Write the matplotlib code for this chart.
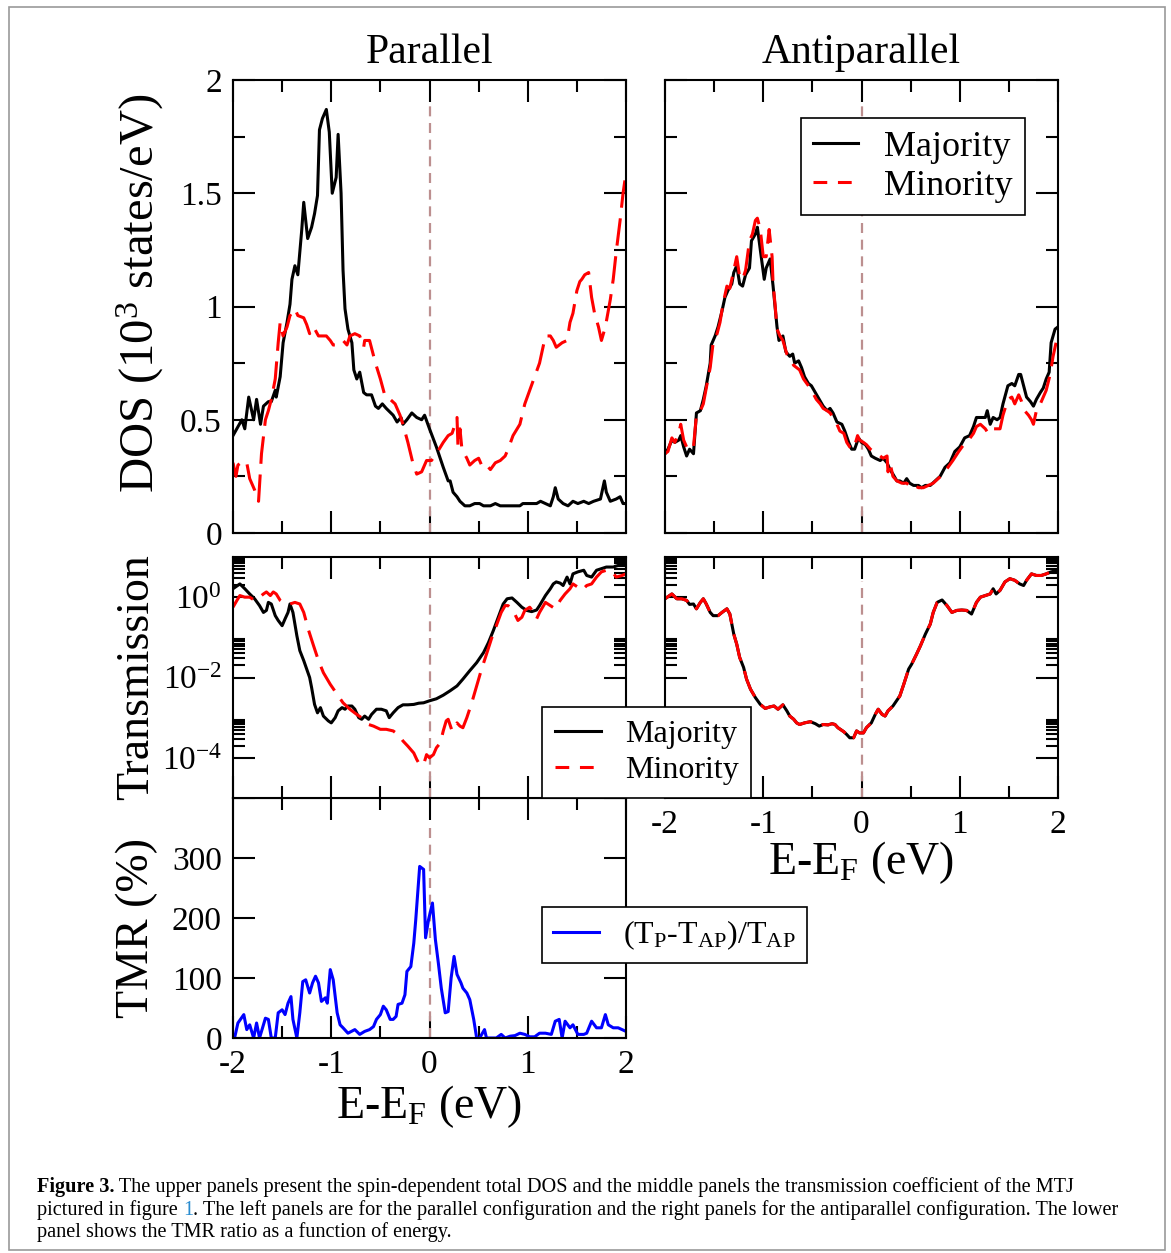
import numpy as np
import matplotlib
matplotlib.use('Agg')
import matplotlib.pyplot as plt
from matplotlib.lines import Line2D
from matplotlib.patches import Rectangle
from matplotlib.ticker import FixedLocator, MultipleLocator, NullFormatter

plt.rcParams['font.family'] = ['Liberation Serif', 'DejaVu Serif']
plt.rcParams['mathtext.fontset'] = 'custom'
plt.rcParams['mathtext.rm'] = 'Liberation Serif'
plt.rcParams['mathtext.it'] = 'Liberation Serif:italic'
plt.rcParams['mathtext.bf'] = 'Liberation Serif:bold'
plt.rcParams['axes.unicode_minus'] = False

# --- DOS, configuration parallele (10^3 etats/eV) ---
e_dos_p_maj = [-2.00, -1.91, -1.88, -1.84, -1.79, -1.76, -1.72, -1.69, -1.64, -1.61, -1.57, -1.56,
               -1.52, -1.49, -1.45, -1.42, -1.40, -1.37, -1.34, -1.30, -1.28, -1.24, -1.20, -1.17,
               -1.14, -1.12, -1.09, -1.05, -1.02, -0.99, -0.95, -0.93, -0.90, -0.88, -0.86, -0.83,
               -0.79, -0.77, -0.74, -0.71, -0.67, -0.64, -0.59, -0.55, -0.52, -0.48, -0.44, -0.37,
               -0.33, -0.29, -0.27, -0.23, -0.18, -0.13, -0.08, -0.05, 0.00, 0.07, 0.14, 0.19,
               0.21, 0.24, 0.28, 0.31, 0.36, 0.41, 0.46, 0.51, 0.55, 0.62, 0.67, 0.72, 0.79, 0.85,
               0.92, 0.95, 1.02, 1.09, 1.13, 1.18, 1.23, 1.26, 1.28, 1.31, 1.36, 1.41, 1.46, 1.51,
               1.57, 1.62, 1.67, 1.74, 1.76, 1.78, 1.80, 1.84, 1.90, 1.94, 1.97, 2.00]
dos_p_maj = [0.43, 0.50, 0.46, 0.60, 0.50, 0.59, 0.48, 0.56, 0.58, 0.58, 0.63, 0.60,
             0.69, 0.84, 0.93, 1.01, 1.12, 1.18, 1.14, 1.34, 1.46, 1.30, 1.35, 1.41,
             1.49, 1.78, 1.83, 1.87, 1.77, 1.50, 1.57, 1.76, 1.50, 1.16, 0.99, 0.90,
             0.84, 0.72, 0.68, 0.71, 0.62, 0.61, 0.61, 0.56, 0.55, 0.57, 0.55, 0.52,
             0.49, 0.51, 0.48, 0.50, 0.53, 0.51, 0.50, 0.52, 0.46, 0.38, 0.29, 0.23,
             0.23, 0.18, 0.16, 0.14, 0.12, 0.12, 0.13, 0.13, 0.12, 0.12, 0.13, 0.12, 0.12, 0.12,
             0.12, 0.13, 0.13, 0.13, 0.14, 0.13, 0.12, 0.16, 0.20, 0.15, 0.13, 0.12, 0.14, 0.13,
             0.14, 0.13, 0.14, 0.15, 0.19, 0.23, 0.18, 0.14, 0.15, 0.16, 0.13, 0.13]

e_dos_p_min = [-2.00, -1.97, -1.95, -1.89, -1.86, -1.83, -1.78, -1.74, -1.71, -1.67, -1.64, -1.61,
               -1.57, -1.54, -1.52, -1.49, -1.45, -1.42, -1.37, -1.34, -1.28, -1.25, -1.22, -1.18,
               -1.13, -1.08, -1.05, -1.01, -0.98, -0.93, -0.88, -0.84, -0.81, -0.76, -0.71, -0.67,
               -0.66, -0.61, -0.55, -0.50, -0.45, -0.40, -0.35, -0.30, -0.27, -0.22, -0.17, -0.13,
               -0.08, -0.03, 0.02, 0.07, 0.14, 0.19, 0.23, 0.26, 0.28, 0.29, 0.31, 0.33, 0.38,
               0.41, 0.46, 0.50, 0.53, 0.56, 0.62, 0.67, 0.72, 0.77, 0.80, 0.85, 0.92, 0.97, 1.02,
               1.07, 1.12, 1.18, 1.23, 1.26, 1.29, 1.35, 1.40, 1.43, 1.46, 1.50, 1.53, 1.55, 1.58,
               1.62, 1.65, 1.68, 1.72, 1.75, 1.79, 1.84, 1.87, 1.90, 1.94, 1.97, 2.00]
dos_p_min = [0.31, 0.25, 0.30, 0.32, 0.31, 0.24, 0.19, 0.14, 0.35, 0.50, 0.54, 0.59,
             0.68, 0.84, 0.93, 0.87, 0.91, 0.96, 0.99, 0.96, 0.95, 0.92, 0.88, 0.91,
             0.87, 0.87, 0.87, 0.85, 0.83, 0.83, 0.85, 0.83, 0.87, 0.88, 0.87, 0.82,
             0.85, 0.85, 0.75, 0.68, 0.60, 0.59, 0.57, 0.52, 0.48, 0.40, 0.31, 0.26,
             0.27, 0.32, 0.32, 0.35, 0.40, 0.43, 0.44, 0.48, 0.51, 0.38, 0.46, 0.37, 0.33,
             0.30, 0.32, 0.33, 0.30, 0.31, 0.28, 0.31, 0.32, 0.34, 0.37, 0.43, 0.48, 0.57, 0.63,
             0.69, 0.75, 0.87, 0.87, 0.85, 0.82, 0.84, 0.85, 0.93, 0.97, 1.07, 1.11, 1.12, 1.14,
             1.15, 1.04, 0.97, 0.91, 0.85, 0.91, 1.03, 1.12, 1.24, 1.38, 1.50, 1.59]

# --- DOS, configuration antiparallele ---
e_dos_ap_maj = [-2.00, -1.97, -1.93, -1.90, -1.86, -1.84, -1.81, -1.78, -1.75, -1.71, -1.68, -1.64,
                -1.61, -1.58, -1.54, -1.53, -1.49, -1.46, -1.42, -1.39, -1.36, -1.32, -1.30, -1.27,
                -1.24, -1.21, -1.18, -1.14, -1.12, -1.08, -1.06, -1.03, -0.99, -0.97, -0.93, -0.90,
                -0.88, -0.86, -0.84, -0.80, -0.77, -0.73, -0.70, -0.68, -0.64, -0.61, -0.58, -0.54,
                -0.51, -0.47, -0.43, -0.39, -0.35, -0.32, -0.29, -0.25, -0.20, -0.17, -0.13, -0.10,
                -0.07, -0.03, 0.00, 0.04, 0.07, 0.10, 0.14, 0.19, 0.22, 0.26, 0.29, 0.32, 0.36,
                0.39, 0.43, 0.46, 0.49, 0.53, 0.58, 0.61, 0.65, 0.70, 0.75, 0.80, 0.85, 0.90, 0.95,
                1.00, 1.05, 1.10, 1.14, 1.17, 1.22, 1.26, 1.28, 1.31, 1.34, 1.38, 1.41, 1.44, 1.49,
                1.53, 1.56, 1.60, 1.62, 1.65, 1.68, 1.72, 1.75, 1.78, 1.82, 1.85, 1.88, 1.91, 1.93,
                1.97, 2.00]
dos_ap_maj = [0.35, 0.37, 0.41, 0.40, 0.41, 0.43, 0.38, 0.34, 0.37, 0.35, 0.53, 0.54,
              0.59, 0.65, 0.75, 0.83, 0.87, 0.91, 0.98, 1.04, 1.07, 1.10, 1.15, 1.18,
              1.10, 1.09, 1.14, 1.17, 1.29, 1.32, 1.35, 1.25, 1.12, 1.17, 1.21, 1.09,
              1.00, 0.91, 0.85, 0.87, 0.80, 0.78, 0.79, 0.75, 0.76, 0.73, 0.69, 0.66,
              0.65, 0.62, 0.59, 0.56, 0.54, 0.55, 0.53, 0.49, 0.48, 0.45, 0.40, 0.37,
              0.37, 0.42, 0.40, 0.39, 0.37, 0.34, 0.33, 0.32, 0.33, 0.31, 0.28, 0.26, 0.23,
              0.23, 0.22, 0.24, 0.22, 0.21, 0.21, 0.20, 0.21, 0.21, 0.23, 0.25, 0.29, 0.31, 0.36,
              0.38, 0.42, 0.43, 0.47, 0.51, 0.51, 0.51, 0.54, 0.48, 0.51, 0.50, 0.51, 0.57, 0.65,
              0.66, 0.65, 0.70, 0.70, 0.65, 0.60, 0.58, 0.56, 0.59, 0.62, 0.64, 0.68, 0.71, 0.84,
              0.90, 0.91]

e_dos_ap_min = [-2.00, -1.97, -1.93, -1.90, -1.86, -1.84, -1.81, -1.77, -1.73, -1.71, -1.68, -1.64,
                -1.61, -1.58, -1.54, -1.51, -1.47, -1.44, -1.41, -1.37, -1.34, -1.30, -1.27, -1.24,
                -1.21, -1.18, -1.14, -1.11, -1.08, -1.06, -1.03, -1.00, -0.97, -0.94, -0.91, -0.90,
                -0.88, -0.86, -0.83, -0.80, -0.76, -0.73, -0.69, -0.66, -0.63, -0.59, -0.54, -0.51,
                -0.46, -0.42, -0.39, -0.35, -0.32, -0.29, -0.25, -0.22, -0.18, -0.15, -0.12, -0.08,
                -0.04, -0.02, 0.02, 0.05, 0.09, 0.12, 0.15, 0.19, 0.22, 0.26, 0.27, 0.29, 0.32,
                0.36, 0.41, 0.46, 0.51, 0.54, 0.58, 0.63, 0.68, 0.73, 0.78, 0.83, 0.88, 0.93, 0.99,
                1.04, 1.09, 1.14, 1.17, 1.21, 1.26, 1.29, 1.32, 1.38, 1.41, 1.44, 1.49, 1.53, 1.56,
                1.60, 1.63, 1.66, 1.70, 1.73, 1.75, 1.78, 1.82, 1.85, 1.88, 1.92, 1.95, 1.98]
dos_ap_min = [0.35, 0.36, 0.42, 0.40, 0.44, 0.48, 0.41, 0.37, 0.37, 0.38, 0.52, 0.54,
              0.57, 0.64, 0.73, 0.84, 0.88, 0.93, 1.01, 1.09, 1.08, 1.16, 1.22, 1.13,
              1.12, 1.16, 1.29, 1.32, 1.38, 1.39, 1.34, 1.22, 1.22, 1.34, 1.22, 1.10,
              1.01, 0.90, 0.87, 0.85, 0.79, 0.77, 0.74, 0.73, 0.72, 0.68, 0.65, 0.63,
              0.59, 0.57, 0.55, 0.54, 0.53, 0.51, 0.48, 0.45, 0.44, 0.40, 0.38, 0.37,
              0.43, 0.41, 0.40, 0.39, 0.37, 0.36, 0.35, 0.34, 0.33, 0.34, 0.27, 0.31, 0.25,
              0.23, 0.22, 0.22, 0.20, 0.21, 0.20, 0.20, 0.21, 0.22, 0.24, 0.26, 0.29, 0.32, 0.36,
              0.39, 0.41, 0.44, 0.47, 0.48, 0.46, 0.44, 0.46, 0.46, 0.46, 0.52, 0.59, 0.60, 0.57,
              0.61, 0.58, 0.54, 0.52, 0.50, 0.48, 0.54, 0.57, 0.60, 0.63, 0.70, 0.78, 0.84]

# --- Transmission, log10(T) ---
e_tr_p_maj = [-2.00, -1.93, -1.88, -1.83, -1.78, -1.73, -1.69, -1.66, -1.64, -1.61, -1.57, -1.54,
              -1.50, -1.47, -1.44, -1.42, -1.39, -1.35, -1.32, -1.28, -1.25, -1.22, -1.20, -1.17,
              -1.14, -1.11, -1.08, -1.03, -1.00, -0.96, -0.93, -0.89, -0.86, -0.83, -0.79, -0.76,
              -0.72, -0.69, -0.66, -0.62, -0.59, -0.54, -0.49, -0.44, -0.41, -0.37, -0.32, -0.27,
              -0.22, -0.16, -0.11, -0.06, 0.00, 0.07, 0.14, 0.21, 0.28, 0.34, 0.41, 0.48, 0.55,
              0.60, 0.65, 0.70, 0.75, 0.79, 0.84, 0.89, 0.94, 0.99, 1.04, 1.09, 1.12, 1.18, 1.23,
              1.26, 1.29, 1.33, 1.36, 1.40, 1.43, 1.46, 1.51, 1.57, 1.60, 1.65, 1.70, 1.75, 1.80,
              1.87, 1.92, 2.00]
log_tr_p_maj = [0.21, 0.33, 0.21, 0.08, -0.04, -0.21, -0.38, -0.33, -0.13, -0.17, -0.46, -0.58,
                -0.71, -0.54, -0.38, -0.17, -0.38, -0.96, -1.33, -1.58, -1.79, -2.00, -2.25, -2.67,
                -2.88, -2.75, -2.96, -3.08, -3.13, -3.00, -2.83, -2.75, -2.79, -2.71, -2.71, -2.79,
                -3.00, -3.04, -2.96, -3.04, -2.92, -2.79, -2.79, -2.83, -3.00, -2.88, -2.75, -2.68,
                -2.68, -2.67, -2.64, -2.63, -2.58, -2.53, -2.44, -2.33, -2.21, -2.04, -1.83, -1.63, -1.38,
                -1.13, -0.83, -0.50, -0.17, -0.04, -0.02, -0.13, -0.25, -0.33, -0.36, -0.32, -0.21, 0.04, 0.21,
                0.33, 0.38, 0.35, 0.29, 0.50, 0.33, 0.58, 0.63, 0.67, 0.54, 0.50, 0.67, 0.71, 0.75,
                0.75, 0.79, 0.83]

e_tr_p_min = [-2.00, -1.96, -1.93, -1.88, -1.83, -1.78, -1.73, -1.69, -1.66, -1.62, -1.59, -1.56,
              -1.52, -1.47, -1.42, -1.37, -1.32, -1.28, -1.23, -1.18, -1.13, -1.08, -1.01, -0.94,
              -0.88, -0.81, -0.74, -0.67, -0.62, -0.57, -0.50, -0.44, -0.37, -0.32, -0.27, -0.22,
              -0.16, -0.13, -0.10, -0.06, -0.03, 0.00, 0.04, 0.07, 0.11, 0.14, 0.17, 0.19, 0.23,
              0.28, 0.31, 0.34, 0.38, 0.43, 0.48, 0.53, 0.58, 0.63, 0.68, 0.73, 0.77, 0.80, 0.85,
              0.90, 0.94, 0.97, 1.02, 1.06, 1.09, 1.12, 1.18, 1.23, 1.28, 1.33, 1.38, 1.43, 1.46,
              1.51, 1.55, 1.60, 1.65, 1.70, 1.75, 1.80, 1.85, 1.90, 1.96, 2.00]
log_tr_p_min = [-0.25, -0.08, 0.04, 0.00, 0.00, -0.08, 0.00, 0.08, 0.13, 0.04, 0.13, 0.08,
                -0.08, -0.17, -0.17, -0.13, -0.17, -0.38, -0.83, -1.21, -1.58, -1.88, -2.17, -2.42,
                -2.63, -2.79, -2.92, -3.04, -3.17, -3.21, -3.29, -3.29, -3.33, -3.42, -3.58, -3.71,
                -3.88, -4.04, -4.17, -4.17, -3.92, -4.00, -3.92, -3.75, -3.63, -3.33, -3.08, -3.04, -3.33,
                -3.13, -3.21, -3.25, -3.00, -2.63, -2.21, -1.79, -1.42, -1.04, -0.71, -0.38, -0.21, -0.21, -0.33,
                -0.58, -0.50, -0.33, -0.25, -0.38, -0.54, -0.38, -0.13, -0.21, -0.29, -0.08, 0.08, 0.21, 0.33,
                0.25, 0.17, 0.29, 0.33, 0.50, 0.63, 0.67, 0.67, 0.50, 0.54, 0.58]

# en antiparallele les deux canaux de spin se superposent
e_tr_ap = [-2.00, -1.93, -1.88, -1.83, -1.78, -1.75, -1.71, -1.68, -1.64, -1.61, -1.58, -1.54,
           -1.51, -1.46, -1.42, -1.37, -1.34, -1.30, -1.27, -1.24, -1.20, -1.17, -1.13, -1.08,
           -1.03, -0.98, -0.93, -0.89, -0.85, -0.80, -0.76, -0.73, -0.69, -0.66, -0.63, -0.58,
           -0.52, -0.47, -0.43, -0.39, -0.34, -0.30, -0.27, -0.24, -0.18, -0.15, -0.12, -0.08,
           -0.05, -0.02, 0.02, 0.05, 0.10, 0.14, 0.17, 0.21, 0.24, 0.27, 0.32, 0.39, 0.43,
           0.48, 0.51, 0.56, 0.60, 0.65, 0.70, 0.73, 0.77, 0.82, 0.87, 0.92, 0.97, 1.02, 1.07,
           1.12, 1.17, 1.21, 1.26, 1.31, 1.34, 1.37, 1.41, 1.46, 1.51, 1.56, 1.61, 1.65, 1.68,
           1.73, 1.78, 1.83, 1.88, 1.93, 2.00]
log_tr_ap_maj = [-0.04, 0.08, -0.04, -0.04, -0.08, -0.18, -0.17, -0.29, -0.13, -0.04, -0.17, -0.38,
                 -0.46, -0.46, -0.38, -0.29, -0.42, -0.92, -1.17, -1.50, -1.75, -2.04, -2.29, -2.50,
                 -2.67, -2.77, -2.73, -2.71, -2.79, -2.68, -2.83, -2.96, -3.04, -3.13, -3.17, -3.13,
                 -3.10, -3.15, -3.21, -3.17, -3.18, -3.15, -3.17, -3.25, -3.35, -3.42, -3.50, -3.50,
                 -3.33, -3.38, -3.38, -3.25, -3.13, -2.92, -2.79, -2.92, -2.96, -2.83, -2.71, -2.46, -2.17,
                 -1.79, -1.67, -1.42, -1.21, -0.92, -0.67, -0.38, -0.13, -0.07, -0.21, -0.38, -0.33, -0.32, -0.33,
                 -0.42, -0.13, 0.00, 0.04, 0.08, 0.21, 0.08, 0.17, 0.38, 0.46, 0.42, 0.33, 0.29, 0.42,
                 0.58, 0.54, 0.54, 0.58, 0.63, 0.67]
log_tr_ap_min = [-0.04, 0.08, -0.04, -0.04, -0.08, -0.18, -0.17, -0.29, -0.13, -0.04, -0.17, -0.38,
                 -0.46, -0.46, -0.38, -0.29, -0.42, -0.92, -1.17, -1.50, -1.75, -2.04, -2.29, -2.50,
                 -2.67, -2.77, -2.73, -2.71, -2.79, -2.68, -2.83, -2.96, -3.04, -3.13, -3.17, -3.13,
                 -3.10, -3.15, -3.21, -3.17, -3.18, -3.15, -3.17, -3.25, -3.35, -3.42, -3.54, -3.50,
                 -3.33, -3.38, -3.38, -3.25, -3.13, -2.92, -2.79, -2.92, -2.96, -2.83, -2.71, -2.46, -2.17,
                 -1.79, -1.67, -1.42, -1.21, -0.92, -0.67, -0.38, -0.13, -0.07, -0.21, -0.38, -0.33, -0.32, -0.33,
                 -0.42, -0.13, 0.00, 0.04, 0.08, 0.21, 0.08, 0.17, 0.38, 0.46, 0.42, 0.33, 0.29, 0.42,
                 0.58, 0.54, 0.54, 0.58, 0.63, 0.67]

# --- TMR (%) ---
e_tmr = [-1.98, -1.95, -1.89, -1.86, -1.83, -1.79, -1.76, -1.73, -1.67, -1.64, -1.61, -1.57,
         -1.54, -1.50, -1.47, -1.44, -1.41, -1.39, -1.35, -1.32, -1.29, -1.26, -1.22, -1.19,
         -1.16, -1.13, -1.10, -1.06, -1.04, -1.01, -0.98, -0.94, -0.91, -0.88, -0.83, -0.76,
         -0.71, -0.66, -0.61, -0.57, -0.54, -0.50, -0.47, -0.44, -0.40, -0.37, -0.34, -0.32,
         -0.28, -0.25, -0.23, -0.19, -0.16, -0.14, -0.10, -0.06, -0.04, -0.01, 0.03, 0.06,
         0.09, 0.12, 0.16, 0.19, 0.22, 0.25, 0.28, 0.32, 0.34, 0.38, 0.41, 0.45, 0.48, 0.51,
         0.56, 0.58, 0.62, 0.68, 0.73, 0.77, 0.82, 0.87, 0.92, 0.97, 1.02, 1.07, 1.12, 1.18,
         1.24, 1.28, 1.32, 1.35, 1.38, 1.43, 1.46, 1.51, 1.57, 1.60, 1.65, 1.70, 1.75, 1.79,
         1.82, 1.87, 1.92, 1.96, 2.00]
tmr = [3, 25, 39, 14, 22, 0, 25, 0, 33, 31, 0, 0,
       42, 47, 39, 58, 69, 31, 0, 42, 94, 97, 75, 92,
       103, 92, 61, 67, 58, 114, 97, 42, 22, 17, 8, 14,
       6, 11, 14, 19, 31, 39, 53, 47, 31, 31, 36, 56,
       58, 72, 111, 119, 158, 197, 286, 281, 167, 197, 225, 164,
       125, 83, 42, 44, 100, 136, 106, 92, 83, 75, 64, 31, 0, 0,
       14, 0, 0, 0, 6, 0, 3, 4, 8, 6, 2, 2, 8, 8,
       6, 28, 31, 0, 28, 17, 22, 6, 6, 8, 28, 17, 17, 39,
       22, 17, 17, 14, 11]

W, H = 1171, 1253


def rect(x0, y0, x1, y1):
    # pixels (origine en haut a gauche) -> fraction de figure
    return [x0 / W, (H - y1) / H, (x1 - x0) / W, (y1 - y0) / H]


def style(ax):
    ax.tick_params(which='both', direction='in', top=True, right=True,
                   labelsize=24, width=1.5, pad=8)
    ax.tick_params(which='major', length=16)
    ax.tick_params(which='minor', length=8.5)
    for s in ax.spines.values():
        s.set_linewidth(1.5)
    ax.set_xlim(-2, 2)
    ax.xaxis.set_major_locator(MultipleLocator(1))
    ax.xaxis.set_minor_locator(MultipleLocator(0.5))
    ax.set_xticks([-2, -1, 0, 1, 2], ['-2', '-1', '0', '1', '2'])


def fermi(ax, top=0.93):
    ax.axvline(0, ymax=top, color='#bc8f8f', lw=1.6, dashes=(4.5, 3))


maj_kw = dict(color='black', lw=2.2)
min_kw = dict(color='red', lw=2.2, dashes=(9, 3.5))

fig = plt.figure(figsize=(W / 100, H / 100), dpi=100)

# cadre gris autour de la figure
fig.patches.append(Rectangle((9 / W, 3 / H), 1156 / W, 1243 / H, transform=fig.transFigure,
                             fill=False, edgecolor='#9a9a9a', lw=1.2))

ax_dp = fig.add_axes(rect(233, 80, 626, 533))
ax_da = fig.add_axes(rect(665, 80, 1058, 533))
ax_ta = fig.add_axes(rect(665, 557, 1058, 798))
ax_tp = fig.add_axes(rect(233, 557, 626, 798))
ax_tm = fig.add_axes(rect(233, 798, 626, 1038))
ax_tp.set_zorder(5)

# DOS
for ax in (ax_dp, ax_da):
    style(ax)
    ax.set_ylim(0, 2)
    ax.yaxis.set_major_locator(MultipleLocator(0.5))
    ax.yaxis.set_minor_locator(MultipleLocator(0.25))
    ax.set_yticks([0, 0.5, 1, 1.5, 2], ['0', '0.5', '1', '1.5', '2'])
    ax.tick_params(labelbottom=False)
    fermi(ax, 0.955)

ax_dp.plot(e_dos_p_maj, dos_p_maj, **maj_kw)
ax_dp.plot(e_dos_p_min, dos_p_min, **min_kw)
ax_da.plot(e_dos_ap_maj, dos_ap_maj, **maj_kw)
ax_da.plot(e_dos_ap_min, dos_ap_min, **min_kw)
ax_da.tick_params(labelleft=False)
ax_dp.set_title('Parallel', fontsize=30, pad=12)
ax_da.set_title('Antiparallel', fontsize=30, pad=12)
ax_dp.set_ylabel(r'DOS (10$^{3}$ states/eV)', fontsize=35)
ax_dp.yaxis.set_label_coords(-0.17, 0.53)

handles = [Line2D([], [], **maj_kw), Line2D([], [], color='red', lw=2.2, dashes=(4.5, 3.5))]
labels = ['Majority', 'Minority']
leg = ax_da.legend(handles, labels, loc='upper right', bbox_to_anchor=(0.916, 0.916),
                   borderaxespad=0, fontsize=26, fancybox=False, framealpha=1,
                   handlelength=1.25, handletextpad=0.7, labelspacing=0.15, borderpad=0.35)
leg.get_frame().set_edgecolor('black')
leg.get_frame().set_linewidth(1.2)

# Transmission
for ax in (ax_tp, ax_ta):
    style(ax)
    ax.set_yscale('log')
    ax.set_ylim(1e-5, 1e1)
    ax.yaxis.set_major_locator(FixedLocator([1e-4, 1e-2, 1e0]))
    ax.yaxis.set_minor_locator(FixedLocator([k * 10.0 ** n for n in (0, -2, -4) for k in range(2, 10)]))
    ax.yaxis.set_minor_formatter(NullFormatter())
    ax.set_yticks([1e-4, 1e-2, 1e0], [r'10$^{-4}$', r'10$^{-2}$', r'10$^{0}$'])
    fermi(ax, 0.9)

ax_tp.plot(e_tr_p_maj, 10.0 ** np.array(log_tr_p_maj), **maj_kw)
ax_tp.plot(e_tr_p_min, 10.0 ** np.array(log_tr_p_min), **min_kw)
ax_ta.plot(e_tr_ap, 10.0 ** np.array(log_tr_ap_maj), **maj_kw)
ax_ta.plot(e_tr_ap, 10.0 ** np.array(log_tr_ap_min), **min_kw)
ax_tp.tick_params(labelbottom=False)
ax_ta.tick_params(labelleft=False)
ax_tp.set_ylabel('Transmission', fontsize=33)
ax_tp.yaxis.set_label_coords(-0.19, 0.5)
ax_ta.set_xlabel(r'E-E$_{\rm F}$ (eV)', fontsize=33)
ax_ta.xaxis.set_label_coords(0.5, -0.17)

leg = ax_tp.legend(handles, labels, loc='lower left', bbox_to_anchor=(0.786, 0.0),
                   borderaxespad=0, fontsize=23, fancybox=False, framealpha=1,
                   handlelength=1.45, handletextpad=0.75, labelspacing=0.2, borderpad=0.4)
leg.get_frame().set_edgecolor('black')
leg.get_frame().set_linewidth(1.2)

# TMR
style(ax_tm)
ax_tm.set_ylim(0, 400)
ax_tm.set_yticks([0, 100, 200, 300, 400], ['0', '100', '200', '300', ''])
fermi(ax_tm, 0.9)
ax_tm.plot(e_tmr, tmr, color='blue', lw=2.2, label=r'(T$_{\rm P}$-T$_{\rm AP}$)/T$_{\rm AP}$')
ax_tm.set_ylabel('TMR (%)', fontsize=33)
ax_tm.yaxis.set_label_coords(-0.19, 0.46)
ax_tm.set_xlabel(r'E-E$_{\rm F}$ (eV)', fontsize=33)
ax_tm.xaxis.set_label_coords(0.5, -0.19)
leg = ax_tm.legend(loc='lower left', bbox_to_anchor=(0.786, 0.3125), borderaxespad=0,
                   fontsize=23, fancybox=False, framealpha=1, handlelength=1.45,
                   handletextpad=0.75, borderpad=0.35)
leg.get_frame().set_edgecolor('black')
leg.get_frame().set_linewidth(1.2)

# legende de la figure
cap = 14.6
t = fig.text(37 / W, 1 - 1192 / H, 'Figure 3.', fontsize=cap, weight='bold')
fig.add_artist(plt.Annotation(' The upper panels present the spin-dependent total DOS and the middle '
                              'panels the transmission coefficient of the MTJ',
                              xy=(1, 0), xycoords=t, va='bottom', fontsize=cap))
t2 = fig.text(37 / W, 1 - 1215 / H, 'pictured in figure ', fontsize=cap)
t3 = fig.add_artist(plt.Annotation('1', xy=(1, 0), xycoords=t2, va='bottom', fontsize=cap,
                                   color='#2a8ccf'))
fig.add_artist(plt.Annotation('. The left panels are for the parallel configuration and the right '
                              'panels for the antiparallel configuration. The lower',
                              xy=(1, 0), xycoords=t3, va='bottom', fontsize=cap))
fig.text(37 / W, 1 - 1237 / H, 'panel shows the TMR ratio as a function of energy.', fontsize=cap)

plt.savefig('out.png', dpi=100)
